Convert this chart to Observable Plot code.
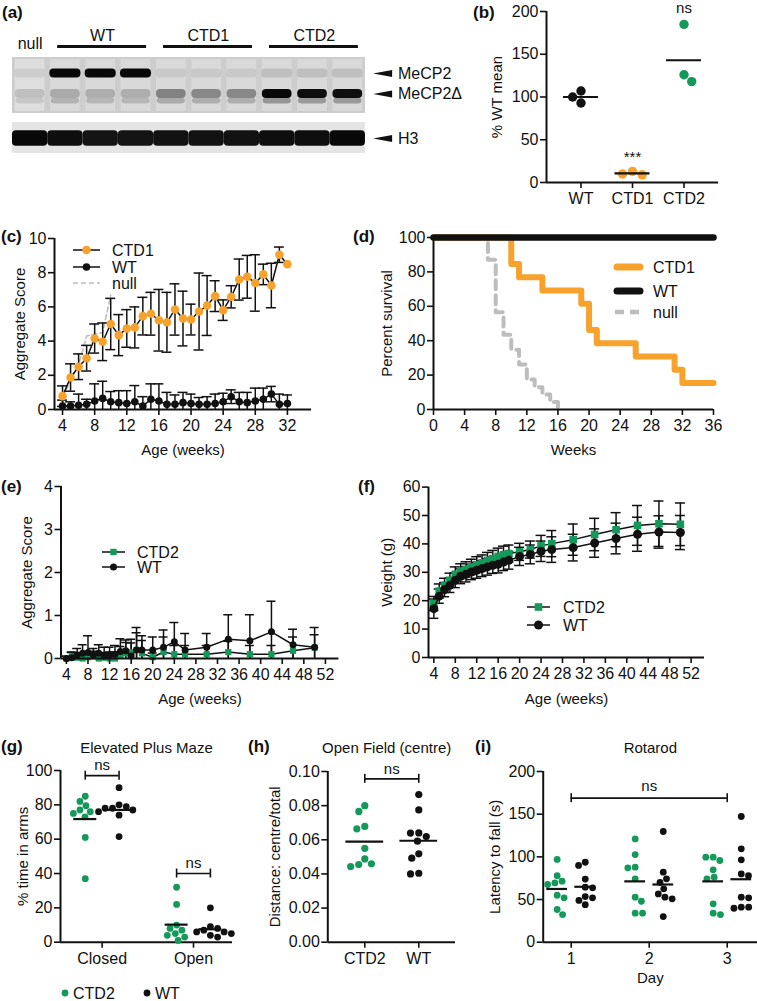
<!DOCTYPE html>
<html><head><meta charset="utf-8">
<script src="https://cdn.jsdelivr.net/npm/d3@7"></script>
<script src="https://cdn.jsdelivr.net/npm/@observablehq/plot@0.6"></script>
<style>
body{margin:0;background:#fff;}
#fig{position:relative;width:757px;height:1001px;overflow:hidden;background:#fff;font-family:"Liberation Sans",Arial,Helvetica,sans-serif;color:#111;}
.plab{position:absolute;font-weight:bold;font-size:17px;line-height:20px;}
</style></head><body><div id="fig"></div>
<script>
// ================= DATA =================
// (a) western blot
const aLanes = ["null","WT","WT","WT","CTD1","CTD1","CTD1","CTD2","CTD2","CTD2"];
const aMeCP2  = [0.03, 1, 1, 1, 0.05, 0.05, 0.05, 0.1, 0.1, 0.1];
const aMeCP2d = [0.1, 0.2, 0.18, 0.18, 0.4, 0.37, 0.37, 1, 0.97, 0.97];
const aLower  = [0.06, 0.16, 0.14, 0.14, 0.2, 0.18, 0.18, 0.3, 0.28, 0.28];
const aH3     = [1, 0.97, 0.94, 0.94, 0.95, 0.95, 0.95, 0.97, 0.97, 1];
const aBandNames = ["MeCP2", "MeCP2Δ", "H3"];
const aBandRows = [7.3, 9.35, 13.8];   // migration (arbitrary units)
const aLowerRow = 10.05;

// (b)
const bGroups = ["WT","CTD1","CTD2"];
const bWT = [107, 93, 100];
const bCTD1 = [13, 9, 10];
const bCTD2 = [185, 118, 126];
const bNotes = ["", "***", "ns"];
const bNoteY = [null, 30, 204];

// (c)
const cWeeks = [4,5,6,7,8,9,10,11,12,13,14,15,16,17,18,19,20,21,22,23,24,25,26,27,28,29,30,31,32];
const cCTD1 = [0.78,1.87,2.5,3.0,4.15,3.96,5.0,4.35,4.74,4.8,5.46,5.6,5.22,5.1,5.85,5.32,5.26,5.73,6.08,6.63,5.81,6.59,7.6,7.76,7.4,7.9,7.25,9.05,8.5];
const cCTD1sd = [0.6,0.8,0.75,0.75,0.85,1.1,1.5,1.2,1.1,1.2,1.1,1.25,1.8,1.75,1.5,1.6,0.9,2.25,1.75,0.9,0.6,0.65,1.2,1.25,1.65,0.6,1.3,0.45,0];
const cWT = [0.2,0.2,0.25,0.3,0.5,0.65,0.45,0.4,0.35,0.45,0.2,0.6,0.5,0.3,0.3,0.4,0.35,0.3,0.3,0.35,0.45,0.75,0.45,0.4,0.5,0.6,0.9,0.3,0.35];
const cWTsd = [0.35,0.25,0.65,0.3,1.0,1.0,0.6,0.7,0.75,0.95,0.55,0.9,1.0,0.7,0.55,0.6,0.55,0.4,0.45,0.55,0.5,0.4,0.55,0.6,0.75,0.65,0.45,0.6,0.5];
const cNullWeeks = [4,5,6,7,8,9,10];
const cNull = [0.7,1.7,2.6,4.3,4.4,4.5,6.7];
const cXTicks = [4,8,12,16,20,24,28,32];
const cYTicks = [0,2,4,6,8,10];

// (d)
const dCTD1Weeks = [0,10,11,14,19,20,21,26,31,32,36];
const dCTD1 = [100,84.6,76.9,69.2,61.5,46.2,38.5,30.8,23.1,15.4,15.4];
const dNullWeeks = [0,7,8,9,10,11,12,13,14,15,16];
const dNull = [100,87,56.5,43.5,34.8,26.1,17.4,13,8.7,4.3,0];
const dWTWeeks = [0,36];
const dWT = [100,100];
const dXTicks = [0,4,8,12,16,20,24,28,32,36];
const dYTicks = [0,20,40,60,80,100];

// (e) and (f)
const efWeeks = [4,5,6,7,8,9,10,11,12,13,14,15,16,17,18,20,22,24,26,30,34,38,42,46,50];
const eCTD2 = [0,0.05,0.02,0,0.03,0.05,0,0.02,0,0,0.08,0.12,0.15,0.2,0.12,0.03,0.15,0.1,0.1,0.1,0.15,0.1,0.1,0.18,0.25];
const eCTD2sd = [0.05,0.1,0.1,0.08,0.1,0.12,0.1,0.12,0.15,0.15,0.2,0.25,0.3,0.4,0.3,0.1,0.35,0.2,0.2,0.2,0.25,0.2,0.2,0.32,0.3];
const eWT = [0,0.02,0.08,0.12,0.14,0.08,0.12,0.06,0.08,0.1,0.16,0.18,0.06,0.2,0.2,0.2,0.26,0.39,0.2,0.26,0.45,0.41,0.62,0.32,0.26];
const eWTsd = [0.05,0.12,0.15,0.2,0.39,0.15,0.2,0.2,0.18,0.2,0.3,0.25,0.3,0.52,0.33,0.3,0.4,0.45,0.38,0.32,0.57,0.61,0.71,0.36,0.46];
const fCTD2 = [19,23.4,25.4,27.2,29.3,30.4,31,31.9,32.7,33.3,34.2,34.8,35.6,36.2,36.6,37.2,38,39.3,40.1,41.5,43.3,45,46.5,47.1,46.9];
const fCTD2sd = [2.5,2.5,2.5,2.5,2.6,2.6,2.7,2.7,2.8,2.8,2.8,2.9,2.9,3,3,3,3,3.7,4.6,5.5,5.7,6,7,8,7.5];
const fWT = [17.2,21.6,23.9,25.4,27.2,28.6,29.3,30.1,30.7,31.3,31.9,32.5,32.8,33.6,34.2,35.6,36.3,37.4,38,38.7,40.3,41.9,43.4,44.2,44];
const fWTsd = [3.4,2.5,2.5,2.5,2.6,2.6,2.7,2.7,2.8,2.8,2.9,2.9,3,3,3.1,3.2,3.3,3.6,4.5,4.7,5,5.4,6,5.7,6];
const efXTicks = [4,8,12,16,20,24,28,32,36,40,44,48,52];
const eYTicks = [0,1,2,3,4];
const fYTicks = [0,10,20,30,40,50,60];

// (g)
const gCats = ["Closed","Open"];
const gClosedCTD2 = [85,82,79.5,77,76,75,73,61,37];
const gClosedWT = [90,80,79,78,78,77,76,74,61.5];
const gOpenCTD2 = [32,22,10,8,7,5,4,3,1];
const gOpenWT = [20,9,8,7,6,6,5,4,3];
const gYTicks = [0,20,40,60,80,100];
const gBracketY = [97, 40];

// (h)
const hCats = ["CTD2","WT"];
const hCTD2 = [0.080,0.0766,0.0678,0.0664,0.055,0.0488,0.0459,0.0455,0.0443];
const hWT = [0.0865,0.0775,0.064,0.0639,0.0619,0.0592,0.0518,0.0492,0.0404,0.040];
const hYTicks = [0,0.02,0.04,0.06,0.08,0.10];
const hBracketY = 0.0957;

// (i)
const iDays = [1,2,3];
const iCTD2 = [[97,78,71.5,69.5,67.6,55,52,38.3,32.4],[121,102.7,87.9,87.1,74.2,52.7,48,34,34],[99.6,99.6,95.7,84.8,76.2,74.2,45,34,32.4]];
const iWT = [[93.7,90,74,64.5,63.7,53.5,52,49,44],[129.7,82,74.2,70,62.5,56.6,52.7,50.8,30],[147.3,109.4,96.5,80,78,52.7,52,41,41,39.8]];
const iYTicks = [0,50,100,150,200];
const iBracketY = 168.75;

// ================= STYLE / HELPERS =================
const FONT = '"Liberation Sans", Arial, Helvetica, sans-serif';
const ORANGE = "#f6a22c", GREEN = "#14995b", NULLGRAY = "#bdbdbd", INK = "#111";
const TICKFS = 16, TITLEFS = 15;
const fig = document.getElementById("fig");
const intFmt = d => String(d);

function pxX(g){return (g.w-g.ml-g.mr)/(g.xd[1]-g.xd[0]);}
function pxY(g){return (g.h-g.mt-g.mb)/(g.yd[1]-g.yd[0]);}

function mk(g, marks, scales = {}) {
  const svg = Plot.plot({
    width: g.w, height: g.h, marginTop: g.mt, marginRight: g.mr, marginBottom: g.mb, marginLeft: g.ml,
    x: {domain: g.xd}, y: {domain: g.yd}, ...scales,
    style: {fontFamily: FONT, fontSize: TICKFS + "px", color: INK, background: "none", overflow: "visible"},
    marks
  });
  svg.style.position = "absolute"; svg.style.left = g.left + "px"; svg.style.top = g.top + "px";
  fig.appendChild(svg);
  return svg;
}
function axes(g, xTicks, xFmt, yTicks, yFmt) {
  const xo = {ticks: xTicks, tickFormat: xFmt || intFmt, tickSize: 6, tickPadding: 4, strokeWidth: 1.6, label: null, fontSize: TICKFS, fill: INK};
  const yo = {ticks: yTicks, tickFormat: yFmt || intFmt, tickSize: 6, tickPadding: 2, strokeWidth: 1.6, label: null, fontSize: TICKFS, fill: INK};
  return [
    Plot.ruleY([g.yd[0]], {stroke: INK, strokeWidth: 2}),
    Plot.ruleX([g.xd[0]], {stroke: INK, strokeWidth: 2}),
    Plot.axisX(xo), Plot.axisY(yo)
  ];
}
function xTitle(t, dy){return Plot.text([t], {frameAnchor: "bottom", dy, textAnchor: "middle", lineAnchor: "middle", fill: INK, fontSize: TITLEFS});}
function yTitle(t, dx){return Plot.text([t], {frameAnchor: "left", dx, rotate: -90, textAnchor: "middle", lineAnchor: "middle", fill: INK, fontSize: TITLEFS});}
function topTitle(t, dy, dx = 0){return Plot.text([t], {frameAnchor: "top", dy, dx, textAnchor: "middle", lineAnchor: "middle", fill: INK, fontSize: TITLEFS});}

function errMarks(rows, g, capPx) {
  const hw = capPx / pxX(g);
  const r = rows.filter(d => d.sd > 0);
  const caps = r.flatMap(d => [{x: d.x, y: d.m + d.sd}, {x: d.x, y: d.m - d.sd}]);
  return [
    Plot.ruleX(r, {x: "x", y1: d => d.m - d.sd, y2: d => d.m + d.sd, stroke: INK, strokeWidth: 1.5, clip: true}),
    Plot.ruleY(caps, {y: "y", x1: d => d.x - hw, x2: d => d.x + hw, stroke: INK, strokeWidth: 1.5, clip: true})
  ];
}
// beeswarm offsets (in x data units) so that dots do not overlap
function swarm(values, g, diam) {
  const py = pxY(g), px = pxX(g);
  const idx = d3.range(values.length).sort((a, b) => values[b] - values[a]);
  const placed = [], off = new Array(values.length);
  let side = 1;
  for (const i of idx) {
    const y = values[i] * py;
    const cands = [0];
    for (const p of placed) {
      const dy = y - p.y;
      if (Math.abs(dy) < diam) { const dx = Math.sqrt(diam * diam - dy * dy); cands.push(p.x + dx, p.x - dx); }
    }
    cands.sort((a, b) => (Math.abs(a) - Math.abs(b)) || (side * (b - a)));
    const x = cands.find(c => placed.every(p => (c - p.x) ** 2 + (y - p.y) ** 2 >= diam * diam - 1e-6));
    side = -side;
    placed.push({x, y}); off[i] = x / px;
  }
  return off;
}
function groupMarks(vals, center, g, color, r, diam, halfMean) {
  const off = swarm(vals, g, diam);
  const pts = vals.map((v, i) => ({x: center + off[i], v}));
  return [
    Plot.dot(pts, {x: "x", y: "v", r, fill: color}),
    Plot.ruleY([d3.mean(vals)], {x1: center - halfMean, x2: center + halfMean, stroke: INK, strokeWidth: 2.2})
  ];
}
function bracket(g, x1, x2, y, label, endPx, textDy) {
  const e = endPx / pxY(g);
  const d = [{x1, x2, y, label}];
  return [
    Plot.ruleY(d, {y: "y", x1: "x1", x2: "x2", stroke: INK, strokeWidth: 1.6}),
    Plot.ruleX(d.flatMap(b => [{x: b.x1, y: b.y}, {x: b.x2, y: b.y}]), {x: "x", y1: b => b.y - e, y2: b => b.y + e, stroke: INK, strokeWidth: 1.6}),
    Plot.text(d, {x: b => (b.x1 + b.x2) / 2, y: "y", text: "label", dy: textDy, fill: INK, fontSize: TITLEFS})
  ];
}

// ================= (a) BLOT =================
{
  const gA = {left: 0, top: 0, w: 480, h: 155};
  const lanes = aLanes.map((g, i) => ({i, g}));
  const groups = d3.groups(lanes.filter(d => d.g !== "null"), d => d.g).map(([g, ls]) => ({g, first: ls[0].i, last: ls[ls.length - 1].i}));
  const band = (vals, row, hh, hw) => lanes.map(d => ({i: d.i, v: vals[d.i], y1: row - hh, y2: row + hh, hw}));
  const bands = [
    ...band(aLower, aLowerRow, 0.3, 0.4),
    ...band(aMeCP2d, aBandRows[1], 0.45, 0.42),
    ...band(aMeCP2, aBandRows[0], 0.45, 0.44),
    ...band(aH3, aBandRows[2], 0.78, 0.5)
  ];
  const arrowSym = {draw(ctx){ ctx.moveTo(-10, 0); ctx.lineTo(9, -3.6); ctx.lineTo(9, 3.6); ctx.closePath(); }};
  const n = aLanes.length;
  const svg = Plot.plot({
    width: gA.w, height: gA.h, margin: 0,
    x: {domain: [-0.8385, 12.759], axis: null},
    y: {domain: [0, 15.5], range: [0, 155], axis: null},
    color: {type: "linear", domain: [0, 1], range: ["#d3d3d3", "#080808"]},
    style: {fontFamily: FONT, fontSize: "15px", color: INK, background: "none", overflow: "visible"},
    marks: [
      Plot.rect([0], {x1: -0.5, x2: n - 0.5, y1: 5.7, y2: 11.3, fill: "#cdcdcd"}),
      Plot.rect(lanes, {x1: d => d.i - 0.42, x2: d => d.i + 0.42, y1: 5.9, y2: 11.1, fill: d => d.g === "null" ? "#dedede" : "#d9d9d9"}),
      Plot.rect([0], {x1: -0.5, x2: n - 0.5, y1: 12.2, y2: 15.3, fill: "#e4e4e4"}),
      Plot.rect(bands, {x1: d => d.i - d.hw, x2: d => d.i + d.hw, y1: "y1", y2: "y2", fill: "v", rx: 4, ariaLabel: "bands"}),
      Plot.text(lanes.filter(d => d.g === "null"), {x: "i", y: 4.3, text: "g", fill: INK, fontSize: 16}),
      Plot.text(groups, {x: d => (d.first + d.last) / 2 + 0.05, y: 3.5, text: "g", fill: INK, fontSize: 16}),
      Plot.ruleY(groups, {y: 4.6, x1: d => d.first - 0.22, x2: d => d.last + 0.3, stroke: INK, strokeWidth: 3}),
      Plot.dot(aBandNames.map((nm, k) => ({nm, y: aBandRows[k]})), {x: 10.0, y: "y", symbol: arrowSym, fill: INK, stroke: "none"}),
      Plot.text(aBandNames.map((nm, k) => ({nm, y: aBandRows[k]})), {x: 10.42, y: "y", text: "nm", textAnchor: "start", fill: INK, fontSize: 16})
    ]
  });
  svg.style.position = "absolute"; svg.style.left = gA.left + "px"; svg.style.top = gA.top + "px";
  const s = d3.select(svg);
  s.insert("defs", ":first-child").append("filter").attr("id", "blotblur").attr("x", "-20%").attr("y", "-50%").attr("width", "140%").attr("height", "200%")
    .append("feGaussianBlur").attr("stdDeviation", 1.1);
  s.selectAll('g[aria-label="bands"]').attr("filter", "url(#blotblur)");
  fig.appendChild(svg);
}

// ================= (b) =================
{
  const g = {left: 490, top: 0, w: 240, h: 215, mt: 11, mr: 12, mb: 33, ml: 56, xd: [-0.67, 2.67], yd: [0, 200]};
  const sets = [bWT, bCTD1, bCTD2], cols = [INK, ORANGE, GREEN];
  const notes = bNotes.map((t, i) => ({x: i, t, y: bNoteY[i]})).filter(d => d.t);
  mk(g, [
    ...axes(g, [0, 1, 2], d => bGroups[d], [0, 50, 100, 150, 200]),
    ...sets.flatMap((v, i) => groupMarks(v, i, g, cols[i], 4.7, 10.3, 0.34)),
    Plot.text(notes, {x: "x", y: "y", text: "t", fill: INK, fontSize: TITLEFS}),
    yTitle("% WT mean", -49)
  ]);
}

// ================= (c) =================
{
  const g = {left: 0, top: 225, w: 328, h: 235, mt: 13, mr: 17, mb: 51, ml: 54, xd: [3, 35], yd: [0, 10]};
  const rC = cWeeks.map((x, i) => ({x, m: cCTD1[i], sd: cCTD1sd[i]}));
  const rW = cWeeks.map((x, i) => ({x, m: cWT[i], sd: cWTsd[i]}));
  const rN = cNullWeeks.map((x, i) => ({x, m: cNull[i]}));
  mk(g, [
    Plot.line(rN, {x: "x", y: "m", stroke: NULLGRAY, strokeWidth: 1.6, strokeDasharray: "5,3"}),
    ...errMarks(rW, g, 5),
    Plot.line(rW, {x: "x", y: "m", stroke: INK, strokeWidth: 1.5}),
    Plot.dot(rW, {x: "x", y: "m", r: 3.8, fill: INK}),
    ...errMarks(rC, g, 5),
    Plot.line(rC, {x: "x", y: "m", stroke: INK, strokeWidth: 1.5}),
    Plot.dot(rC, {x: "x", y: "m", r: 4.3, fill: ORANGE}),
    ...axes(g, cXTicks, null, cYTicks, null),
    xTitle("Age (weeks)", 41), yTitle("Aggregate Score", -34)
  ]);
}

// ================= (d) =================
{
  const g = {left: 380, top: 225, w: 350, h: 235, mt: 12, mr: 17, mb: 51, ml: 53, xd: [0, 36], yd: [0, 100]};
  const rows = (ws, vs) => ws.map((x, i) => ({x, s: vs[i]}));
  mk(g, [
    Plot.line(rows(dNullWeeks, dNull), {x: "x", y: "s", curve: "step-after", stroke: NULLGRAY, strokeWidth: 4, strokeDasharray: "9,6"}),
    Plot.line(rows(dCTD1Weeks, dCTD1), {x: "x", y: "s", curve: "step-after", stroke: ORANGE, strokeWidth: 6}),
    Plot.line(rows(dWTWeeks, dWT), {x: "x", y: "s", curve: "step-after", stroke: INK, strokeWidth: 6.5}),
    ...axes(g, dXTicks, null, dYTicks, null),
    xTitle("Weeks", 41), yTitle("Percent survival", -46)
  ]);
}

// ================= (e) =================
{
  const g = {left: 0, top: 478, w: 345, h: 235, mt: 8, mr: 6.6, mb: 55, ml: 60.5, xd: [3, 54.5], yd: [0, 4]};
  const rC = efWeeks.map((x, i) => ({x, m: eCTD2[i], sd: eCTD2sd[i]}));
  const rW = efWeeks.map((x, i) => ({x, m: eWT[i], sd: eWTsd[i]}));
  mk(g, [
    ...errMarks(rC, g, 4.5),
    ...errMarks(rW, g, 4.5),
    Plot.line(rC, {x: "x", y: "m", stroke: INK, strokeWidth: 1.5}),
    Plot.dot(rC, {x: "x", y: "m", r: 3.5, symbol: "square", fill: GREEN}),
    Plot.line(rW, {x: "x", y: "m", stroke: INK, strokeWidth: 1.5}),
    Plot.dot(rW, {x: "x", y: "m", r: 3.5, fill: INK}),
    ...axes(g, efXTicks, null, eYTicks, null),
    xTitle("Age (weeks)", 41), yTitle("Aggregate Score", -33.5)
  ]);
}

// ================= (f) =================
{
  const g = {left: 380, top: 478, w: 345, h: 235, mt: 8.6, mr: 21, mb: 56, ml: 48, xd: [3, 54.5], yd: [0, 60]};
  const rC = efWeeks.map((x, i) => ({x, m: fCTD2[i], sd: fCTD2sd[i]}));
  const rW = efWeeks.map((x, i) => ({x, m: fWT[i], sd: fWTsd[i]}));
  mk(g, [
    ...errMarks(rC, g, 5),
    ...errMarks(rW, g, 5),
    Plot.line(rC, {x: "x", y: "m", stroke: INK, strokeWidth: 1.5}),
    Plot.dot(rC, {x: "x", y: "m", r: 4.3, symbol: "square", fill: GREEN}),
    Plot.line(rW, {x: "x", y: "m", stroke: INK, strokeWidth: 1.5}),
    Plot.dot(rW, {x: "x", y: "m", r: 4.5, fill: INK}),
    ...axes(g, efXTicks, null, fYTicks, null),
    xTitle("Age (weeks)", 42), yTitle("Weight (g)", -41)
  ]);
}

// ================= (g) =================
const SHIFT = 0.185;
{
  const g = {left: 0, top: 740, w: 240, h: 230, mt: 30, mr: 8, mb: 28.3, ml: 60, xd: [-0.456, 1.427], yd: [0, 100]};
  const data = [[gClosedCTD2, gClosedWT], [gOpenCTD2, gOpenWT]];
  mk(g, [
    ...axes(g, [0, 1], d => gCats[d], gYTicks, null),
    ...data.flatMap(([c, w], k) => [
      ...groupMarks(c, k - SHIFT, g, GREEN, 3.4, 7.4, 0.126),
      ...groupMarks(w, k + SHIFT, g, INK, 3.4, 7.4, 0.126)
    ]),
    ...gBracketY.flatMap((y, k) => bracket(g, k - SHIFT, k + SHIFT, y, "ns", 4.5, -10)),
    topTitle("Elevated Plus Maze", -22),
    yTitle("% time in arms", -37.3)
  ]);
}

// ================= (h) =================
{
  const g = {left: 255, top: 740, w: 215, h: 230, mt: 31, mr: 15, mb: 28.3, ml: 72.3, xd: [-0.685, 1.68], yd: [0, 0.1]};
  mk(g, [
    ...axes(g, [0, 1], d => hCats[d], hYTicks, d3.format(".2f")),
    ...groupMarks(hCTD2, 0, g, GREEN, 3.6, 8.3, 0.35),
    ...groupMarks(hWT, 1, g, INK, 3.6, 8.3, 0.35),
    ...bracket(g, 0, 1, hBracketY, "ns", 4.5, -10),
    topTitle("Open Field (centre)", -23, -5),
    yTitle("Distance: centre/total", -52.3)
  ]);
}

// ================= (i) =================
{
  const g = {left: 490, top: 740, w: 267, h: 245, mt: 31, mr: 0, mb: 43.3, ml: 52.7, xd: [0.641, 3.388], yd: [0, 200]};
  mk(g, [
    ...axes(g, iDays, null, iYTicks, null),
    ...iDays.flatMap((day, k) => [
      ...groupMarks(iCTD2[k], day - 0.18, g, GREEN, 3.4, 7.4, 0.133),
      ...groupMarks(iWT[k], day + 0.18, g, INK, 3.4, 7.4, 0.133)
    ]),
    ...bracket(g, iDays[0], iDays[2], iBracketY, "ns", 4.5, -12),
    topTitle("Rotarod", -23),
    xTitle("Day", 36.3),
    yTitle("Latency to fall (s)", -47.7)
  ]);
}

// ================= LEGENDS (overlay) & PANEL LABELS =================
const ov = d3.select(fig).append("svg").attr("width", 757).attr("height", 1001)
  .style("position", "absolute").style("left", 0).style("top", 0)
  .style("font-family", FONT).style("font-size", "16px").style("pointer-events", "none");
function legendRow(x1, x2, y, tx, label, o) {
  if (x2 > x1) {
    ov.append("line").attr("x1", x1).attr("x2", x2).attr("y1", y).attr("y2", y)
      .attr("stroke", o.stroke || INK).attr("stroke-width", o.sw || 1.5)
      .attr("stroke-dasharray", o.dash || null).attr("stroke-linecap", o.cap || "butt");
  }
  const mx = (x1 + x2) / 2;
  if (o.marker === "circle") ov.append("circle").attr("cx", mx).attr("cy", y).attr("r", o.r).attr("fill", o.fill);
  if (o.marker === "square") ov.append("rect").attr("x", mx - o.r).attr("y", y - o.r).attr("width", 2 * o.r).attr("height", 2 * o.r).attr("fill", o.fill);
  ov.append("text").attr("x", tx).attr("y", y).attr("dy", "0.35em").attr("fill", INK).text(label);
}
// (c)
legendRow(73, 100, 250, 112, "CTD1", {marker: "circle", r: 4.3, fill: ORANGE});
legendRow(73, 100, 267, 112, "WT", {marker: "circle", r: 3.8, fill: INK});
legendRow(73, 100, 283, 112, "null", {stroke: NULLGRAY, dash: "5,3", sw: 1.6});
// (d)
legendRow(617, 640, 267, 653, "CTD1", {stroke: ORANGE, sw: 7, cap: "round"});
legendRow(617, 640, 291, 653, "WT", {stroke: INK, sw: 7, cap: "round"});
legendRow(615, 642, 312, 653, "null", {stroke: NULLGRAY, sw: 4.5, dash: "9,6"});
// (e)
legendRow(102, 125, 552, 137, "CTD2", {marker: "square", r: 3.2, fill: GREEN});
legendRow(102, 125, 567, 137, "WT", {marker: "circle", r: 3.5, fill: INK});
// (f)
legendRow(527, 550, 607, 563, "CTD2", {marker: "square", r: 3.8, fill: GREEN});
legendRow(527, 550, 625, 563, "WT", {marker: "circle", r: 4.5, fill: INK});
// (g) bottom legend
legendRow(65, 65, 993, 73, "CTD2", {marker: "circle", r: 3.4, fill: GREEN});
legendRow(147, 147, 993, 155, "WT", {marker: "circle", r: 3.4, fill: INK});

const labels = [["(a)", 2, 3], ["(b)", 473, 3], ["(c)", 1, 227], ["(d)", 353, 227], ["(e)", 1, 477], ["(f)", 358, 477], ["(g)", 1, 737], ["(h)", 248, 737], ["(i)", 475, 737]];
for (const [t, x, y] of labels) {
  const d = document.createElement("div"); d.className = "plab"; d.textContent = t;
  d.style.left = x + "px"; d.style.top = y + "px"; fig.appendChild(d);
}
</script></body></html>
